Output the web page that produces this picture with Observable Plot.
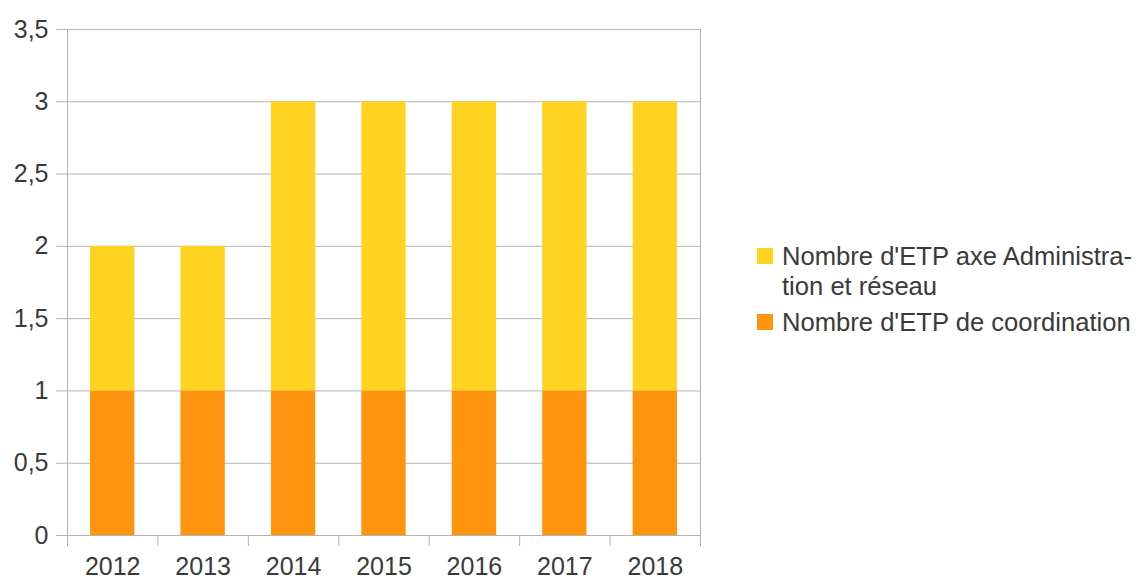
<!DOCTYPE html>
<html>
<head>
<meta charset="utf-8">
<script src="https://cdn.jsdelivr.net/npm/d3@7"></script>
<script src="https://cdn.jsdelivr.net/npm/@observablehq/plot@0.6"></script>
<style>
  html, body { margin: 0; padding: 0; background: #fff; }
  #wrap { position: relative; width: 1141px; height: 579px; font-family: "Liberation Sans", Arial, sans-serif; }
  #legend { position: absolute; left: 757px; top: 241px; font-size: 25.6px; line-height: 30px; color: #3a3a3a; }
  .item { position: relative; padding-left: 25px; width: 380px; margin-bottom: 6px; white-space: nowrap; }
  .sw { position: absolute; left: 0; top: 7px; width: 16px; height: 16px; }
</style>
</head>
<body>
<div id="wrap"></div>
<script>
const years = ["2012", "2013", "2014", "2015", "2016", "2017", "2018"];
const coordination = [1, 1, 1, 1, 1, 1, 1];
const administration = [1, 1, 2, 2, 2, 2, 2];
const seriesNames = ["Nombre d'ETP de coordination", "Nombre d'ETP axe Administra-\u00adtion et réseau"];
const seriesColors = ["#ff950e", "#ffd320"];
const yTicks = [0, 0.5, 1, 1.5, 2, 2.5, 3, 3.5];

const rows = [];
years.forEach((yr, i) => {
  rows.push({i, year: yr, series: 0, y1: 0, y2: coordination[i]});
  rows.push({i, year: yr, series: 1, y1: coordination[i], y2: coordination[i] + administration[i]});
});

const fmt = v => String(v).replace(".", ",");

const chart = Plot.plot({
  width: 1141,
  height: 579,
  marginLeft: 67,
  marginRight: 441,
  marginTop: 29,
  marginBottom: 44,
  style: {fontFamily: "Liberation Sans, Arial, sans-serif", fontSize: "25px", color: "#3a3a3a", background: "#fff", overflow: "visible"},
  x: {type: "linear", domain: [0, years.length], axis: null},
  y: {domain: [0, 3.5], axis: null},
  marks: [
    Plot.gridY(yTicks, {stroke: "#b3b3b3", strokeOpacity: 1, strokeWidth: 1}),
    Plot.ruleX([0, years.length], {stroke: "#b3b3b3", strokeWidth: 1}),
    Plot.rectY(rows, {
      x1: d => d.i + 0.255,
      x2: d => d.i + 0.745,
      y1: "y1",
      y2: "y2",
      fill: d => seriesColors[d.series]
    }),
    Plot.axisY(yTicks, {tickSize: 11, tickPadding: 8, tickFormat: fmt, stroke: "#b3b3b3", fill: "#3a3a3a", fontSize: 25}),
    Plot.axisX(d3.range(years.length + 1), {tickSize: 11, tickFormat: () => "", stroke: "#b3b3b3"}),
    Plot.axisX(years.map((y, i) => i + 0.5), {tickSize: 0, tickPadding: 22, tickFormat: v => years[Math.floor(v)], fill: "#3a3a3a", fontSize: 25})
  ]
});

const wrap = document.getElementById("wrap");
wrap.appendChild(chart);

const legend = document.createElement("div");
legend.id = "legend";
[1, 0].forEach(s => {
  const it = document.createElement("div");
  it.className = "item";
  const sw = document.createElement("span");
  sw.className = "sw";
  sw.style.background = seriesColors[s];
  it.appendChild(sw);
  const label = seriesNames[s].split("\u00ad");
  it.appendChild(document.createTextNode(label[0]));
  if (label.length > 1) {
    it.appendChild(document.createElement("br"));
    it.appendChild(document.createTextNode(label[1]));
  }
  legend.appendChild(it);
});
wrap.appendChild(legend);
</script>
</body>
</html>
